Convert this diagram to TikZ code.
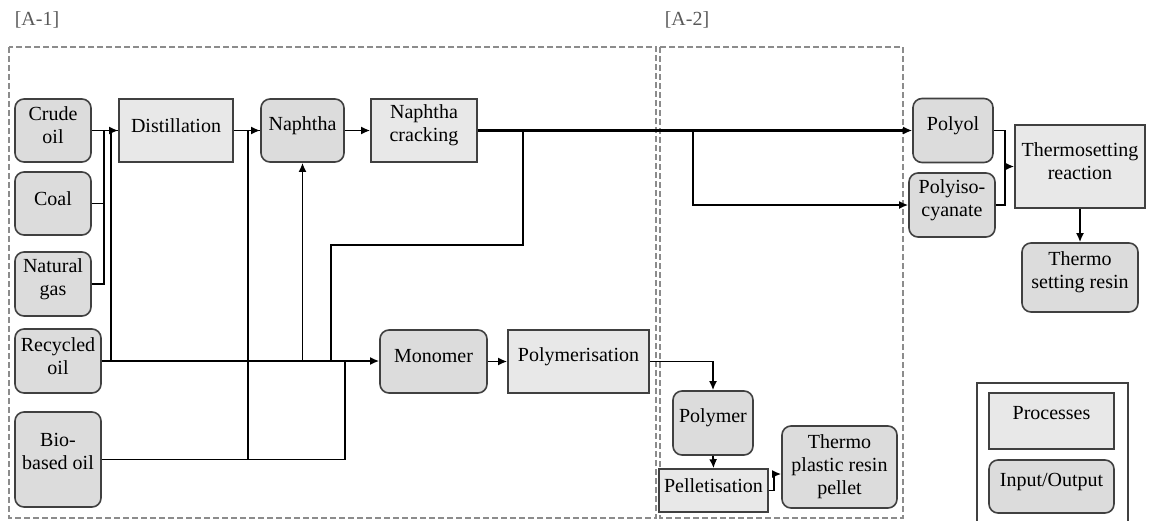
\documentclass[tikz,border=0pt]{standalone}
\usepackage{fontspec}
\setmainfont{Liberation Serif}
\newfontfamily\boxfam{Liberation Serif}
\usetikzlibrary{arrows.meta}
\definecolor{procfill}{HTML}{E8E8E8}
\definecolor{iofill}{HTML}{DCDCDC}
\definecolor{edgecol}{HTML}{404040}
\definecolor{framecol}{HTML}{8C8C8C}
\newcommand{\boxfont}{\boxfam\fontsize{20}{23}\selectfont}
\begin{document}
\begin{tikzpicture}[x=1pt,y=-1pt,
  proc/.style={draw=edgecol, fill=procfill, line width=1.6pt, inner sep=0pt},
  io/.style={proc, fill=iofill, rounded corners=9pt},
  txt/.style={font=\boxfont, align=center, inner sep=0pt, yshift=5pt},
  conn/.style={line width=1.8pt, black},
  mainline/.style={line width=2.5pt, black},
  arr/.style={-{Latex[length=9pt,width=8pt]}},
  area/.style={draw=framecol, line width=1.5pt, dash pattern=on 6pt off 3pt},
  tag/.style={font=\boxfam\fontsize{20}{22}\selectfont, text=black!65, inner sep=0pt}]

\useasboundingbox (0,0) rectangle (1154,520);

% stage frames and their tags
\draw[area] (9,47) rectangle (656,518);
\draw[area] (660,47) rectangle (903,518);
\node[tag] (tagA1) at (37,20) {[A-1]};
\node[tag] (tagA2) at (687,20) {[A-2]};

% feedstocks
\node[io, minimum width=76pt, minimum height=63pt, label={[txt]center:{Crude\\oil}}] (crude) at (53,130.5) {};
\node[io, minimum width=76pt, minimum height=63pt, label={[txt]center:Coal}] (coal) at (53,203.5) {};
\node[io, minimum width=76pt, minimum height=64pt, label={[txt]center:{Natural\\gas}}] (gas) at (53,284) {};
\node[io, minimum width=86pt, minimum height=64pt, label={[txt]center:{Recycled\\oil}}] (recyc) at (58,361) {};
\node[io, minimum width=86pt, minimum height=95pt, label={[txt, yshift=3pt]center:{Bio-\\based oil}}] (bio) at (58,459.5) {};

% refining and cracking
\node[proc, minimum width=114pt, minimum height=63pt, label={[txt]center:Distillation}] (dist) at (176,130.5) {};
\node[io, minimum width=83pt, minimum height=63pt, label={[txt]center:Naphtha}] (naph) at (302.5,130.5) {};
\node[proc, minimum width=106pt, minimum height=63pt, label={[txt]center:{Naphtha\\cracking}}] (crack) at (424,130.5) {};

% polymer route
\node[io, minimum width=107pt, minimum height=63pt, label={[txt]center:Monomer}] (mono) at (433.5,361.5) {};
\node[proc, minimum width=141pt, minimum height=63pt, label={[txt]center:Polymerisation}] (polym) at (578.5,361.5) {};
\node[io, minimum width=80pt, minimum height=64pt, label={[txt]center:Polymer}] (polymer) at (713,423) {};
\node[proc, minimum width=109pt, minimum height=43pt, label={[txt]center:Pelletisation}] (pellet) at (713.5,490.5) {};
\node[io, minimum width=115pt, minimum height=82pt, label={[txt, yshift=-5pt]center:{Thermo\\plastic resin\\pellet}}] (tpr) at (839.5,467) {};

% thermosetting route
\node[io, minimum width=80pt, minimum height=64pt, label={[txt]center:Polyol}] (polyol) at (953,130.5) {};
\node[io, minimum width=86pt, minimum height=64pt, label={[txt]center:{Polyiso-\\cyanate}}] (iso) at (952,205) {};
\node[proc, minimum width=130pt, minimum height=83pt, label={[txt]center:{Thermosetting\\reaction}}] (tsr) at (1080,166.5) {};
\node[io, minimum width=116pt, minimum height=69pt, label={[txt]center:{Thermo\\setting resin}}] (tsres) at (1080,277.5) {};

% legend
\draw[draw=edgecol, line width=1.2pt] (977,383) rectangle (1128,524);
\node[proc, minimum width=125pt, minimum height=56pt, label={[txt, yshift=3pt]center:Processes}] (lproc) at (1051.5,421) {};
\node[io, minimum width=125pt, minimum height=53pt, label={[txt]center:Input/Output}] (lio) at (1051.5,486.5) {};

% junction points
\coordinate (jfos) at (104,130.5);
\coordinate (jrec) at (111,361);
\coordinate (jbio) at (248,459.5);
\coordinate (jmono) at (345,361);
\coordinate (jcrk) at (523,130.5);
\coordinate (kcrk) at (523,245);
\coordinate (jret) at (331,361);
\coordinate (jiso) at (693,130.5);
\coordinate (kpel) at (774,474);
\coordinate (jts) at (1005,166.5);

% connectors
\draw[conn, arr] (crude.east) -- (dist.west);
\draw[conn] (coal.east) -| (jfos);
\draw[conn] (gas.east) -| (jfos);
\draw[conn] (jrec) |- (dist.west);
\draw[mainline, arr] (recyc.east) -- (recyc.east -| mono.west);
\draw[conn] (bio.east) -| (jmono);
\draw[conn] (jbio) |- (naph.west);
\draw[conn, arr] (dist.east) -- (naph.west);
\draw[conn, arr] (naph.south |- recyc.east) -- (naph.south);
\draw[conn, arr] (naph.east) -- (crack.west);
\draw[mainline, arr] (crack.east) -- (polyol.west);
\draw[conn] (jcrk) -- (kcrk) -| (jret);
\draw[conn, arr] (jiso) |- (iso.west);
\draw[conn, arr] (mono.east) -- (polym.west);
\draw[conn, arr] (polym.east) -| (polymer.north);
\draw[conn, arr] (polymer.south) -- (pellet.north);
\draw[conn, arr] (pellet.east) -| (kpel) -- (kpel -| tpr.west);
\draw[conn] (polyol.east) -| (jts);
\draw[conn] (iso.east) -| (jts);
\draw[conn, arr] (jts) -- (tsr.west);
\draw[conn, arr] (tsr.south) -- (tsres.north);
\end{tikzpicture}
\end{document}
